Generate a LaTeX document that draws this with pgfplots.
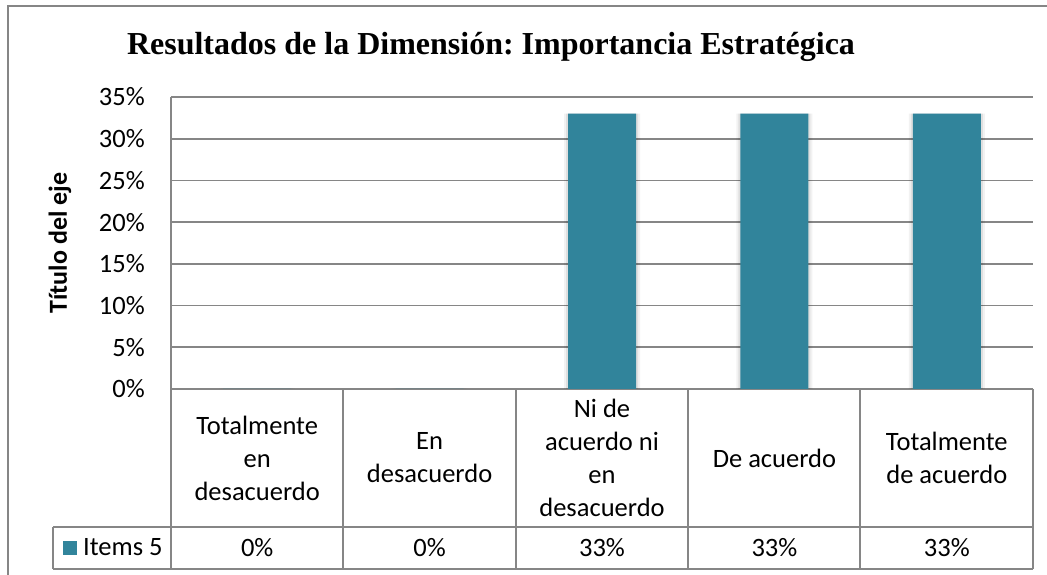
\documentclass[border=0pt]{standalone}
\usepackage{fontspec}
\setmainfont{Carlito}
\newfontfamily\titlefont{Liberation Serif}
\usepackage{pgfplots}
\pgfplotsset{compat=1.18}
\usepackage{pgfplotstable}
\definecolor{barcol}{HTML}{31849B}
\definecolor{linegray}{HTML}{868686}
\frenchspacing

\pgfplotstableread{
x val
0 0
1 0
2 33
3 33
4 33
}\datatable

\begin{document}
\begin{tikzpicture}
\useasboundingbox (0pt,0pt) rectangle (1047pt,575pt);
\draw[linegray, line width=1.8pt] (8pt,-5pt) -- (8pt,569pt) -- (1060pt,569pt);
\node[font=\titlefont\bfseries\fontsize{32}{38}\selectfont] at (491pt,528pt) {Resultados de la Dimensión: Importancia Estratégica};
\begin{axis}[
  at={(171pt,186pt)}, anchor=south west,
  scale only axis, width=862pt, height=292pt,
  xmin=-0.5, xmax=4.5, ymin=0, ymax=35,
  clip=false,
  axis x line*=bottom, axis y line*=left,
  axis line style={linegray, line width=1.8pt, -},
  ymajorgrids, grid style={linegray, line width=1.8pt},
  major tick length=0pt,
  ytick={0,5,...,35},
  yticklabel={\pgfmathprintnumber{\tick}\%},
  /pgf/number format/assume math mode=true,
  ticklabel style={font=\fontsize{26.5}{33}\selectfont},
  yticklabel style={anchor=east, inner sep=0pt, xshift=-26pt},
  xtick={0,...,4},
  xticklabels={{Totalmente\\en\\desacuerdo},{En\\desacuerdo},{Ni de\\acuerdo ni\\en\\desacuerdo},{De acuerdo},{Totalmente\\de acuerdo}},
  xticklabel style={align=center, anchor=center, inner sep=0pt, yshift=-69pt},
  ylabel={Título del eje},
  ylabel style={at={(axis description cs:-0.1288,0.5)}, anchor=center, font=\bfseries\fontsize{26}{31}\selectfont},
  legend style={at={(axis description cs:-0.1253,-0.5445)}, anchor=west, draw=none, fill=none, inner sep=0pt, font=\fontsize{26.5}{33}\selectfont},
  legend image code/.code={\fill[barcol] (0pt,-7pt) rectangle (14pt,7pt); \path (18pt,0pt);},
]
\addplot[ybar, bar width=76pt, bar shift=0pt, fill=black, fill opacity=0.05, draw=none, forget plot] table[x=x,y=val]{\datatable};
\addplot[ybar, bar width=72pt, bar shift=0pt, fill=black, fill opacity=0.08, draw=none, forget plot] table[x=x,y=val]{\datatable};
\addplot[ybar, bar width=68pt, bar shift=0pt, fill=barcol, draw=none] table[x=x,y=val]{\datatable};
\addlegendentry{Items 5}
\addplot[draw=none, mark=none, forget plot, point meta=explicit,
  nodes near coords={\pgfmathprintnumber{\pgfplotspointmeta}\%},
  every node near coord/.append style={anchor=center, inner sep=0pt, font=\fontsize{26.5}{33}\selectfont, /pgf/number format/assume math mode=true}]
  table[x=x, y expr=-19.06, meta=val]{\datatable};
\end{axis}
\draw[linegray, line width=1.8pt] (53pt,48pt) -- (1033pt,48pt);
\draw[linegray, line width=1.8pt] (53pt,6pt) -- (1033pt,6pt);
\draw[linegray, line width=1.8pt] (53pt,6pt) -- (53pt,48pt);
\draw[linegray, line width=1.8pt] (171pt,6pt) -- (171pt,186pt);
\foreach \xx in {343,516,688,860,1033} {\draw[linegray, line width=1.8pt] (\xx pt,6pt) -- (\xx pt,186pt);}
\end{tikzpicture}
\end{document}
